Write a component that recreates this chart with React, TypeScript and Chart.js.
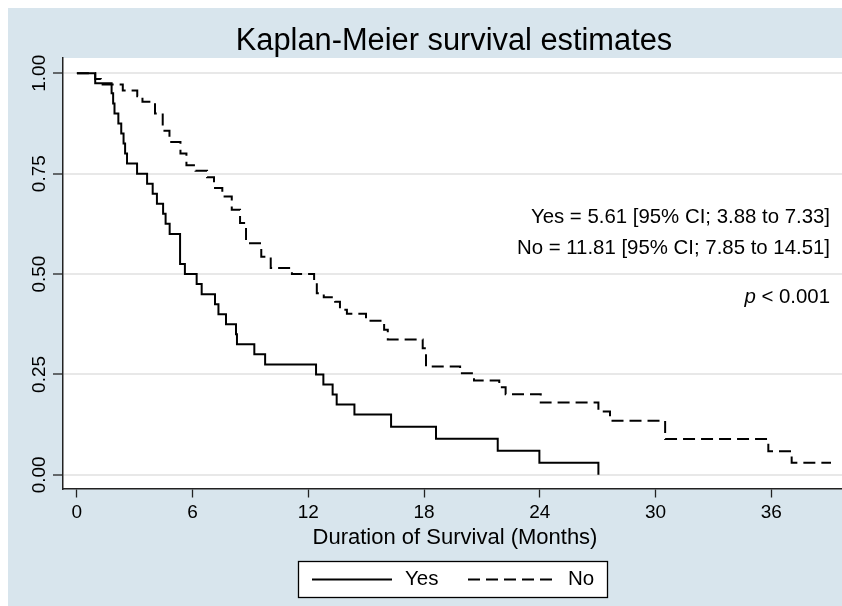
import { useEffect, useRef } from "react";
import { Chart, registerables } from "chart.js";

Chart.register(...registerables);

// ---- data ----
const chartTitle = "Kaplan-Meier survival estimates";
const xAxisTitle = "Duration of Survival (Months)";
const seriesNames = ["Yes", "No"];

const yesTimes = [0, 0.95, 1.8, 1.88, 1.95, 2.15, 2.3, 2.42, 2.5, 2.6, 3.12, 3.64, 3.93, 4.15, 4.47, 4.6, 4.81, 5.35, 5.6, 6.21, 6.47, 7.16, 7.34, 7.73, 8.25, 8.3, 9.2, 9.76, 12.4, 12.78, 13.26, 13.47, 14.39, 16.29, 18.62, 21.82, 23.98, 27.04];
const yesSurvival = [1, 0.975, 0.95, 0.925, 0.9, 0.875, 0.85, 0.825, 0.8, 0.775, 0.75, 0.725, 0.7, 0.675, 0.65, 0.625, 0.6, 0.525, 0.5, 0.475, 0.45, 0.425, 0.4, 0.375, 0.35, 0.325, 0.3, 0.275, 0.25, 0.225, 0.2, 0.175, 0.15, 0.12, 0.09, 0.06, 0.03, 0];

const noTimes = [0, 0.95, 1.24, 2.38, 3.13, 3.4, 4.05, 4.45, 4.8, 5.37, 5.68, 6.15, 6.75, 7.11, 7.54, 8.03, 8.46, 8.77, 9.56, 10.05, 11.15, 12.3, 12.44, 12.8, 13.39, 13.64, 14.0, 14.99, 15.93, 16.12, 17.93, 18.1, 19.87, 20.59, 21.9, 22.23, 24.05, 27.04, 27.64, 30.5, 35.85, 37.06, 39.1];
const noSurvival = [1, 0.986, 0.972, 0.957, 0.943, 0.929, 0.9, 0.857, 0.829, 0.8, 0.771, 0.757, 0.741, 0.714, 0.693, 0.66, 0.627, 0.577, 0.543, 0.515, 0.5, 0.477, 0.452, 0.442, 0.431, 0.411, 0.401, 0.384, 0.361, 0.337, 0.315, 0.27, 0.253, 0.235, 0.218, 0.201, 0.18, 0.158, 0.135, 0.089, 0.059, 0.03, 0.03];

const xTicks = [0, 6, 12, 18, 24, 30, 36];
const yTicks = [0, 0.25, 0.5, 0.75, 1];
const yTickLabels = ["0.00", "0.25", "0.50", "0.75", "1.00"];

const medianLines = [
  "Yes = 5.61 [95% CI; 3.88 to 7.33]",
  "No = 11.81 [95% CI; 7.85 to 14.51]",
];
const pLabel = "p";
const pValue = " < 0.001";

const FONT = "'Liberation Sans', Arial, Helvetica, sans-serif";
const BG = "rgb(216,229,237)";

const decorPlugin = {
  id: "decor",
  beforeDraw(chart: any) {
    const { ctx, chartArea, width, height } = chart;
    ctx.save();
    ctx.fillStyle = BG;
    ctx.fillRect(0, 0, width, height);
    ctx.fillStyle = "#ffffff";
    ctx.fillRect(chartArea.left, chartArea.top, chartArea.right - chartArea.left, chartArea.bottom - chartArea.top);
    ctx.restore();
  },
  afterDraw(chart: any) {
    const { ctx } = chart;
    const xs = chart.scales.x;
    const ys = chart.scales.y;
    ctx.save();
    ctx.fillStyle = "#000";

    // title
    ctx.font = `30.8px ${FONT}`;
    ctx.textAlign = "center";
    ctx.textBaseline = "middle";
    ctx.fillText(chartTitle, 446, 34);

    // x tick labels
    ctx.font = `19px ${FONT}`;
    ctx.textAlign = "center";
    ctx.textBaseline = "middle";
    xTicks.forEach((v) => {
      ctx.fillText(String(v), xs.getPixelForValue(v), 505);
    });

    // y tick labels (rotated)
    yTicks.forEach((v, i) => {
      const py = ys.getPixelForValue(v);
      ctx.save();
      ctx.translate(32, py);
      ctx.rotate(-Math.PI / 2);
      ctx.textAlign = "center";
      ctx.textBaseline = "middle";
      ctx.fillText(yTickLabels[i], 0, 0);
      ctx.restore();
    });

    // x axis title
    ctx.font = `22px ${FONT}`;
    ctx.textAlign = "center";
    ctx.textBaseline = "middle";
    ctx.fillText(xAxisTitle, 447, 530);

    // median annotations
    ctx.font = `20.4px ${FONT}`;
    ctx.textAlign = "right";
    ctx.textBaseline = "middle";
    const rightX = 822;
    ctx.fillText(medianLines[0], rightX, 209);
    ctx.fillText(medianLines[1], rightX, 240);
    const wv = ctx.measureText(pValue).width;
    ctx.fillText(pValue, rightX, 289);
    ctx.font = `italic 20.4px ${FONT}`;
    ctx.fillText(pLabel, rightX - wv, 289);

    // legend box
    const bx = 290.5, by = 553.5, bw = 309, bh = 36;
    ctx.fillStyle = "#ffffff";
    ctx.fillRect(bx, by, bw, bh);
    ctx.strokeStyle = "#000";
    ctx.lineWidth = 1.3;
    ctx.strokeRect(bx, by, bw, bh);
    const ly = by + bh / 2;
    ctx.lineWidth = 2;
    ctx.setLineDash([]);
    ctx.beginPath();
    ctx.moveTo(304, ly);
    ctx.lineTo(384, ly);
    ctx.stroke();
    ctx.setLineDash([12, 6]);
    ctx.beginPath();
    ctx.moveTo(460, ly);
    ctx.lineTo(548, ly);
    ctx.stroke();
    ctx.setLineDash([]);
    ctx.fillStyle = "#000";
    ctx.font = `20.5px ${FONT}`;
    ctx.textAlign = "left";
    ctx.textBaseline = "middle";
    ctx.fillText(seriesNames[0], 397, ly);
    ctx.fillText(seriesNames[1], 560, ly);
    ctx.restore();
  },
};

export default function App() {
  const ref = useRef<HTMLCanvasElement>(null);
  useEffect(() => {
    const canvas = ref.current;
    if (!canvas) return;
    const chart = new Chart(canvas, {
      type: "line",
      data: {
        datasets: [
          {
            label: seriesNames[0],
            data: yesTimes.map((t, i) => ({ x: t, y: yesSurvival[i] })),
            stepped: "before",
            borderColor: "#000",
            borderWidth: 2,
            pointRadius: 0,
            fill: false,
          },
          {
            label: seriesNames[1],
            data: noTimes.map((t, i) => ({ x: t, y: noSurvival[i] })),
            stepped: "before",
            borderColor: "#000",
            borderWidth: 2,
            borderDash: [12, 6],
            pointRadius: 0,
            fill: false,
          },
        ],
      },
      options: {
        responsive: false,
        animation: false,
        devicePixelRatio: 1,
        layout: { padding: { top: 50, left: 0, right: 0, bottom: 0 } },
        plugins: {
          legend: { display: false },
          title: { display: false },
          tooltip: { enabled: false },
        },
        scales: {
          x: {
            type: "linear",
            min: -0.72,
            max: 39.67,
            afterBuildTicks: (s: any) => {
              s.ticks = xTicks.map((v) => ({ value: v }));
            },
            afterFit: (s: any) => {
              s.height = 117.5;
            },
            ticks: { display: false },
            grid: {
              drawOnChartArea: false,
              drawTicks: true,
              tickLength: 9,
              tickColor: "#222",
              tickWidth: 1.3,
            },
            border: { display: true, color: "#222", width: 1.5 },
          },
          y: {
            type: "linear",
            min: -0.034,
            max: 1.038,
            afterBuildTicks: (s: any) => {
              s.ticks = yTicks.map((v) => ({ value: v }));
            },
            afterFit: (s: any) => {
              s.width = 55;
            },
            ticks: { display: false },
            grid: {
              drawOnChartArea: true,
              color: "#e8e8e8",
              lineWidth: 2,
              drawTicks: true,
              tickLength: 10,
              tickColor: "#222",
              tickWidth: 1.3,
            },
            border: { display: true, color: "#222", width: 1.5 },
          },
        },
      },
      plugins: [decorPlugin],
    });
    return () => chart.destroy();
  }, []);
  return (
    <div style={{ position: "fixed", left: 8, top: 8, width: 834, height: 598 }}>
      <canvas ref={ref} width={834} height={598} style={{ display: "block", width: 834, height: 598 }} />
    </div>
  );
}
